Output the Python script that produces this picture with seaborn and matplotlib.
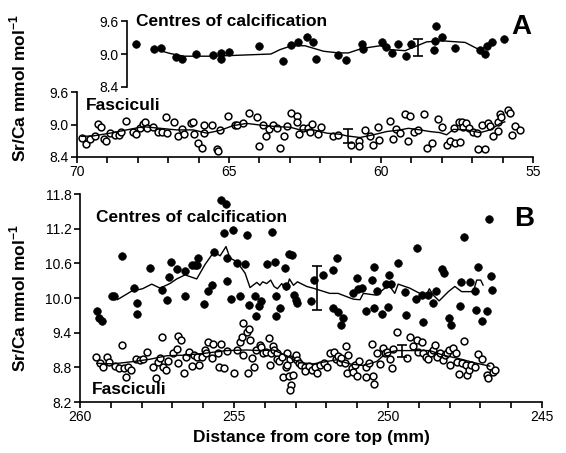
import numpy as np
import pandas as pd
import matplotlib
matplotlib.use("Agg")
import matplotlib.pyplot as plt
from matplotlib.ticker import MultipleLocator, FixedLocator, FormatStrFormatter
import seaborn as sns

# ---------------- data ----------------
# Panel A – centres of calcification
a_coc_x = [68.06, 67.46, 67.24, 66.74, 66.56, 66.09, 65.52, 65.27, 65.26, 65.01, 64.00, 63.23,
           62.96, 62.72, 62.44, 62.23, 62.15, 61.40, 61.15, 60.64, 60.58, 59.98, 59.82, 59.63,
           59.43, 59.18, 59.01, 58.19, 58.22, 58.26, 58.00, 57.57, 56.74, 56.58, 56.52, 56.36, 55.94]
a_coc_y = [9.18, 9.09, 9.11, 8.95, 8.91, 9.00, 8.99, 9.02, 8.90, 9.04, 9.15, 8.87,
           9.16, 9.21, 9.30, 9.21, 8.91, 8.98, 8.89, 9.19, 9.09, 9.21, 9.12, 9.02,
           9.18, 8.96, 9.19, 9.51, 9.24, 9.07, 9.30, 9.11, 9.07, 9.00, 9.15, 9.22, 9.28]
a_coc_line_x = [67.46, 66.94, 66.50, 65.52, 63.62, 63.32, 62.94, 62.50, 61.89, 61.40, 61.07, 60.63,
                60.03, 59.70, 59.21, 58.50, 58.00, 57.23, 56.74, 56.30]
a_coc_line_y = [9.09, 9.01, 8.96, 8.96, 9.00, 9.08, 9.15, 9.15, 9.05, 9.02, 9.02, 9.10,
                9.15, 9.08, 9.06, 9.22, 9.24, 9.21, 9.07, 9.22]
a_coc_err = (58.79, 9.12, 0.15)

# Panel A – fasciculi
a_fas_x = [69.85, 69.70, 69.57, 69.42, 69.32, 69.21, 69.11, 69.05, 68.91, 68.75, 68.61, 68.56,
           68.39, 68.17, 68.06, 67.93, 67.84, 67.76, 67.69, 67.49, 67.32, 67.21, 67.07, 67.03,
           66.81, 66.67, 66.56, 66.48, 66.26, 66.17, 66.15, 66.01, 65.90, 65.82, 65.82, 65.57,
           65.38, 65.35, 65.30, 65.02, 64.80, 64.73, 64.55, 64.33, 64.09, 64.00, 63.89, 63.78,
           63.67, 63.54, 63.43, 63.32, 63.19, 63.08, 62.96, 62.77, 62.75, 62.69, 62.55, 62.39,
           62.33, 62.26, 62.06, 61.98, 61.57, 61.40, 60.98, 60.74, 60.71, 60.52, 60.36, 60.25,
           60.11, 60.05, 59.72, 59.59, 59.50, 59.37, 59.21, 59.04, 59.12, 58.93, 58.77, 58.60,
           58.50, 58.33, 58.13, 58.00, 57.84, 57.73, 57.60, 57.56, 57.40, 57.45, 57.34, 57.31,
           57.20, 57.09, 56.98, 56.85, 56.80, 56.58, 56.69, 56.47, 56.43, 56.32, 56.14, 56.08,
           56.14, 56.06, 55.81, 55.75, 55.68, 55.59, 55.43]
a_fas_y = [8.76, 8.64, 8.73, 8.78, 9.01, 8.96, 8.73, 8.70, 8.84, 8.81, 8.81, 8.87,
           9.07, 8.86, 8.82, 8.93, 9.01, 9.04, 8.94, 8.96, 8.87, 8.86, 9.13, 8.85,
           9.05, 8.79, 8.91, 8.82, 9.02, 9.05, 8.82, 8.65, 8.56, 9.00, 8.85, 8.99,
           8.55, 8.52, 8.89, 9.16, 8.99, 9.00, 9.02, 9.22, 9.14, 8.60, 9.00, 8.79,
           8.92, 9.00, 8.94, 8.56, 8.79, 8.98, 9.22, 9.16, 9.05, 8.82, 8.93, 8.94,
           8.87, 9.01, 8.82, 8.96, 8.79, 8.81, 8.63, 8.70, 8.61, 8.90, 8.79, 8.63,
           8.96, 8.71, 9.07, 8.74, 8.91, 8.84, 9.19, 9.16, 8.70, 8.87, 8.90, 9.19,
           8.57, 8.65, 9.10, 8.96, 8.62, 8.70, 8.93, 8.65, 8.68, 9.04, 9.04, 8.96,
           9.03, 8.94, 8.87, 8.85, 8.54, 8.54, 9.00, 9.02, 8.98, 8.79, 8.88, 9.19,
           9.05, 9.13, 9.27, 9.21, 8.81, 8.97, 8.90]
a_fas_line_x = [69.85, 69.46, 68.91, 68.37, 67.82, 67.27, 66.72, 66.17, 65.73, 65.30, 64.86, 64.42,
                63.98, 63.43, 62.99, 62.66, 62.22, 61.78, 61.35, 61.13, 60.69, 60.25, 59.81, 59.37,
                59.10, 58.71, 58.39, 58.06, 57.84, 57.62, 57.18, 56.74, 56.41, 56.08, 55.92]
a_fas_line_y = [8.78, 8.79, 8.84, 8.90, 8.96, 8.93, 8.90, 8.90, 8.84, 8.89, 8.98, 9.02,
                8.99, 8.96, 8.95, 8.90, 8.90, 8.84, 8.82, 8.79, 8.76, 8.81, 8.87, 8.90,
                8.93, 8.90, 8.87, 8.85, 8.81, 8.91, 8.90, 8.85, 8.90, 9.02, 9.05]
a_fas_err = (61.07, 8.79, 0.125)

# Panel B – centres of calcification
b_coc_x = [259.44, 259.37, 259.27, 258.95, 258.89, 258.63, 258.24, 258.14, 258.14, 257.73, 257.35,
           257.16, 257.10, 257.06, 256.86, 256.59, 256.59, 256.37, 256.27, 256.21, 256.16, 255.97,
           255.83, 255.73, 255.64, 255.43, 255.26, 255.32, 255.04, 255.22, 255.24, 255.11, 254.91,
           254.81, 254.64, 254.57, 254.50, 254.32, 254.29, 254.18, 254.13, 253.92, 253.78, 253.67,
           253.64, 253.64, 253.51, 253.34, 253.31, 253.20, 253.11, 253.04, 252.99, 252.97, 252.51,
           252.41, 252.10, 251.80, 251.65, 251.80, 251.62, 251.45, 251.51, 251.13, 251.02, 250.97,
           250.83, 250.70, 250.51, 250.46, 250.45, 250.35, 250.21, 250.07, 249.99, 249.96, 249.91,
           249.69, 249.42, 249.45, 249.09, 249.05, 248.88, 248.86, 248.69, 248.55, 248.44, 248.26,
           248.18, 248.01, 247.94, 247.64, 247.66, 247.52, 247.34, 247.18, 247.15, 247.07, 246.96,
           246.80, 246.72, 246.66, 246.61]
b_coc_y = [9.77, 9.65, 9.61, 10.03, 10.04, 10.73, 10.18, 9.92, 9.73, 10.52, 10.14,
           9.97, 10.36, 10.62, 10.50, 10.03, 10.46, 10.57, 10.57, 10.57, 10.70, 9.89,
           10.12, 10.22, 10.80, 11.70, 11.62, 11.13, 11.17, 10.69, 10.30, 9.99, 10.60,
           10.03, 10.58, 11.09, 9.88, 10.03, 9.69, 9.87, 9.94, 10.59, 11.15, 10.62,
           9.69, 10.03, 9.83, 10.52, 10.21, 10.76, 10.74, 10.05, 9.97, 9.91, 9.95,
           10.32, 10.40, 10.48, 10.70, 9.82, 9.75, 9.66, 9.54, 10.08, 10.34, 10.16,
           10.18, 9.77, 10.31, 9.82, 10.54, 10.12, 9.73, 10.24, 9.85, 10.40, 10.24,
           10.61, 9.71, 10.11, 9.98, 10.87, 10.05, 9.58, 10.05, 9.91, 10.12, 10.51,
           10.43, 9.65, 9.54, 10.28, 9.87, 11.05, 10.27, 10.12, 9.79, 10.54, 9.60,
           9.77, 11.37, 10.38, 10.14]
b_coc_line_x = [258.79, 258.32, 257.97, 257.67, 257.40, 257.08, 256.86, 256.59, 256.21, 255.94, 255.65,
                255.45, 255.26, 255.13, 254.91, 254.64, 254.48, 254.26, 254.16, 254.07, 253.94, 253.81,
                253.70, 253.59, 253.45, 253.31, 253.20, 253.07, 252.94, 252.64, 252.43, 251.89, 251.62,
                251.13, 250.91, 250.80, 250.39, 250.10, 249.94, 249.78, 249.67, 249.29, 248.97, 248.77,
                248.66, 248.53, 248.34, 248.04, 247.83, 247.61, 247.23, 247.12, 246.99, 246.91]
b_coc_line_y = [9.97, 10.12, 10.16, 10.24, 10.17, 10.25, 10.33, 10.40, 10.33, 10.58, 10.80,
                10.73, 10.89, 10.69, 10.63, 10.43, 10.18, 10.27, 10.22, 10.28, 10.25, 10.31,
                10.20, 10.16, 10.25, 10.14, 10.33, 10.22, 10.28, 10.20, 10.17, 10.08, 10.08,
                9.98, 9.97, 10.08, 10.05, 10.17, 10.20, 10.08, 10.24, 10.17, 10.08, 10.02,
                10.16, 10.05, 9.95, 10.11, 10.20, 10.11, 10.11, 10.31, 10.31, 10.22]
b_coc_err = (252.29, 10.17, 0.38)

# Panel B – fasciculi
b_fas_x = [259.48, 259.35, 259.24, 259.13, 259.05, 258.86, 258.72, 258.65, 258.57, 258.51, 258.43,
           258.34, 258.18, 258.05, 257.97, 257.81, 257.64, 257.53, 257.46, 257.40, 257.35, 257.29,
           257.21, 257.15, 256.97, 256.86, 256.81, 256.81, 256.72, 256.62, 256.56, 256.45, 256.37,
           256.30, 256.19, 256.13, 256.05, 255.94, 255.91, 255.83, 255.73, 255.67, 255.51, 255.48,
           255.42, 255.32, 255.24, 255.00, 254.91, 254.81, 254.75, 254.72, 254.70, 254.59, 254.53,
           254.50, 254.48, 254.43, 254.35, 254.29, 254.16, 254.12, 254.05, 253.96, 253.87, 253.83,
           253.81, 253.72, 253.70, 253.61, 253.59, 253.53, 253.45, 253.40, 253.31, 253.29, 253.27,
           253.18, 253.20, 253.15, 253.18, 253.07, 253.02, 252.99, 252.97, 252.88,
           252.81, 252.70, 252.70, 252.56, 252.48, 252.37, 252.30, 252.21, 252.08, 251.97, 251.89,
           251.76, 251.69, 251.62, 251.56, 251.51, 251.40, 251.37, 251.29, 251.34, 251.18, 251.15,
           251.07, 251.02, 250.93, 250.70, 250.70, 250.61, 250.53, 250.50, 250.46, 250.37, 250.26,
           250.15, 250.10, 250.02, 249.94, 249.88, 249.83, 249.70, 249.38, 249.27, 249.18, 249.07,
           249.02, 248.91, 248.86, 248.75, 248.69, 248.62, 248.55, 248.48, 248.40, 248.31, 248.21,
           248.15, 248.08, 248.01, 247.99, 247.88, 247.79, 247.75, 247.69, 247.61, 247.54, 247.47,
           247.45, 247.36, 247.29, 247.18, 247.07, 246.96, 246.80, 246.75, 246.69, 246.58, 246.53]
b_fas_y = [8.98, 8.87, 8.81, 8.98, 8.90, 8.82, 8.78, 9.19, 8.78, 8.64, 8.81,
           8.75, 8.95, 8.93, 8.94, 9.07, 8.81, 8.62, 8.90, 8.96, 9.32, 8.81,
           8.75, 8.91, 9.04, 9.11, 8.88, 9.34, 9.28, 8.71, 8.98, 9.07, 8.82,
           9.01, 8.98, 8.84, 8.98, 9.10, 9.04, 9.24, 8.96, 9.21, 9.04, 8.80,
           9.21, 8.78, 9.09, 8.71, 9.10, 9.24, 9.33, 9.56, 9.01, 9.41, 8.70,
           9.46, 9.28, 8.97, 8.80, 9.10, 9.19, 9.16, 9.05, 9.07, 9.31, 8.84,
           9.05, 9.17, 9.10, 9.04, 8.94, 8.91, 8.98, 8.64, 8.81, 8.84, 9.05,
           8.95, 8.65, 8.49, 8.41, 8.67, 8.97, 9.01, 8.93, 8.87,
           8.84, 8.81, 8.74, 8.82, 8.75, 8.81, 8.71, 8.84, 8.88, 8.80, 9.04,
           9.07, 8.95, 8.99, 8.90, 8.97, 8.88, 9.17, 9.01, 8.70, 8.78, 8.72,
           8.84, 8.65, 8.91, 8.81, 8.64, 8.87, 9.20, 8.65, 8.51, 9.04, 8.86,
           9.13, 9.05, 9.07, 8.94, 8.78, 9.11, 9.42, 8.96, 9.32, 9.17, 9.27,
           9.07, 9.23, 9.04, 8.98, 8.94, 9.04, 9.10, 9.19, 8.98, 9.04, 8.93,
           9.01, 9.05, 9.10, 8.84, 9.13, 9.04, 8.90, 8.69, 8.87, 9.26, 8.84,
           8.67, 8.75, 8.84, 8.80, 9.03, 8.94, 8.67, 8.61, 8.82, 8.72, 8.75]
b_fas_line_x = [259.46, 258.92, 258.27, 257.73, 257.19, 256.65, 256.00, 255.24, 254.59, 254.16, 253.72,
                253.29, 252.86, 252.43, 252.00, 251.67, 251.24, 250.80, 250.37, 250.05, 249.72, 248.64,
                248.21, 247.77, 247.12, 246.69]
b_fas_line_y = [8.87, 8.86, 8.90, 8.94, 9.00, 9.01, 9.04, 9.09, 9.10, 9.09, 9.10,
                9.00, 8.88, 8.86, 8.90, 8.93, 8.86, 8.83, 8.90, 9.05, 9.09, 9.09,
                9.01, 8.96, 8.87, 8.82]
b_fas_err = (249.56, 9.085, 0.105)

a_xticks = [70, 65, 60, 55]
b_xticks = [260, 255, 250, 245]
a_yticks = [8.4, 9.0, 9.6]
b_yticks = [8.2, 8.8, 9.4, 10.0, 10.6, 11.2, 11.8]

# ---------------- style ----------------
sns.set_style("ticks")
plt.rcParams['font.family'] = ['Liberation Sans', 'DejaVu Sans']
plt.rcParams['mathtext.fontset'] = 'custom'
plt.rcParams['mathtext.rm'] = 'Liberation Sans'
plt.rcParams['mathtext.bf'] = 'Liberation Sans:bold'
plt.rcParams['text.color'] = 'black'
plt.rcParams['axes.labelcolor'] = 'black'
plt.rcParams['axes.linewidth'] = 1.2
plt.rcParams['xtick.major.width'] = 1.2
plt.rcParams['xtick.minor.width'] = 1.2
plt.rcParams['ytick.major.width'] = 1.2
plt.rcParams['xtick.major.size'] = 4
plt.rcParams['xtick.minor.size'] = 4
plt.rcParams['ytick.major.size'] = 4
plt.rcParams['xtick.color'] = 'black'
plt.rcParams['ytick.color'] = 'black'
plt.rcParams['xtick.labelcolor'] = 'black'
plt.rcParams['ytick.labelcolor'] = 'black'
plt.rcParams['axes.edgecolor'] = 'black'

TICK_FS = 10
LAB_FS = 12.5

fig = plt.figure(figsize=(5.66, 4.53), dpi=100)
W, H = 566.0, 453.0

def fa(l, t, r, b):
    return [l / W, 1 - b / H, (r - l) / W, (b - t) / H]

axA = fig.add_axes(fa(77, 92, 533, 157))
axAc = fig.add_axes(fa(77, 21, 533, 87))
axB = fig.add_axes(fa(80, 194, 542, 402))
for ax in (axA, axAc, axB):
    ax.patch.set_alpha(0)

S_FILL = 30
S_OPEN = 24

def filled(ax, x, y):
    sns.scatterplot(x=x, y=y, ax=ax, color='black', edgecolor='black', s=S_FILL,
                    linewidth=0.5, zorder=3, legend=False)

def hollow(ax, x, y):
    sns.scatterplot(x=x, y=y, ax=ax, color='white', edgecolor='black', s=S_OPEN,
                    linewidth=1.1, zorder=3, legend=False)

def trend(ax, x, y):
    sns.lineplot(x=x, y=y, ax=ax, color='black', linewidth=1.0, sort=False,
                 estimator=None, zorder=4, legend=False)

def ebar(ax, e):
    ax.errorbar([e[0]], [e[1]], yerr=[e[2]], fmt='none', ecolor='black',
                elinewidth=1.2, capsize=3.5, capthick=1.2, zorder=5)

# Panel A lower – fasciculi
hollow(axA, a_fas_x, a_fas_y)
trend(axA, a_fas_line_x, a_fas_line_y)
ebar(axA, a_fas_err)
axA.set_xlim(70, 55)
axA.set_ylim(8.4, 9.6)
axA.xaxis.set_major_locator(FixedLocator(a_xticks))
axA.xaxis.set_minor_locator(MultipleLocator(1))
axA.yaxis.set_major_locator(FixedLocator(a_yticks))
axA.yaxis.set_major_formatter(FormatStrFormatter('%.1f'))
sns.despine(ax=axA)
axA.set_xlabel('')
axA.set_ylabel('')

# Panel A upper – centres of calcification
filled(axAc, a_coc_x, a_coc_y)
trend(axAc, a_coc_line_x, a_coc_line_y)
ebar(axAc, a_coc_err)
axAc.set_xlim(70, 55)
axAc.set_ylim(8.4, 9.6)
axAc.yaxis.set_major_locator(FixedLocator(a_yticks))
axAc.yaxis.set_major_formatter(FormatStrFormatter('%.1f'))
axAc.spines['left'].set_position(('data', 68.36))
for sp in ('top', 'right', 'bottom'):
    axAc.spines[sp].set_visible(False)
axAc.set_xticks([])
axAc.set_xlabel('')
axAc.set_ylabel('')

# Panel B
filled(axB, b_coc_x, b_coc_y)
hollow(axB, b_fas_x, b_fas_y)
trend(axB, b_coc_line_x, b_coc_line_y)
trend(axB, b_fas_line_x, b_fas_line_y)
ebar(axB, b_coc_err)
ebar(axB, b_fas_err)
axB.set_xlim(260, 245)
axB.set_ylim(8.2, 11.8)
axB.xaxis.set_major_locator(FixedLocator(b_xticks))
axB.xaxis.set_minor_locator(MultipleLocator(1))
axB.yaxis.set_major_locator(FixedLocator(b_yticks))
axB.yaxis.set_major_formatter(FormatStrFormatter('%.1f'))
sns.despine(ax=axB)
axB.set_ylabel('')
axB.set_xlabel('Distance from core top (mm)', fontsize=LAB_FS, fontweight='bold',
               labelpad=4, color='black')

for ax in (axA, axAc, axB):
    ax.tick_params(axis='both', which='both', labelsize=TICK_FS, direction='out', pad=2,
                   colors='black')

# Texts
def ftext(x, y, s, **kw):
    fig.text(x / W, 1 - y / H, s, color='black', **kw)

ylab = r'Sr/Ca mmol mol$^{\mathbf{-1}}$'
ftext(18, 88, ylab, rotation=90, ha='center', va='center', fontsize=LAB_FS, fontweight='bold')
ftext(18, 298, ylab, rotation=90, ha='center', va='center', fontsize=LAB_FS, fontweight='bold')
ftext(136, 22, 'Centres of calcification', ha='left', va='center', fontsize=LAB_FS, fontweight='bold')
ftext(86, 105, 'Fasciculi', ha='left', va='center', fontsize=LAB_FS, fontweight='bold')
ftext(96, 217, 'Centres of calcification', ha='left', va='center', fontsize=LAB_FS, fontweight='bold')
ftext(92, 389, 'Fasciculi', ha='left', va='center', fontsize=LAB_FS, fontweight='bold')
ftext(521, 27, 'A', ha='center', va='center', fontsize=20, fontweight='bold')
ftext(524, 219, 'B', ha='center', va='center', fontsize=20, fontweight='bold')

fig.savefig('out.png', dpi=100)
